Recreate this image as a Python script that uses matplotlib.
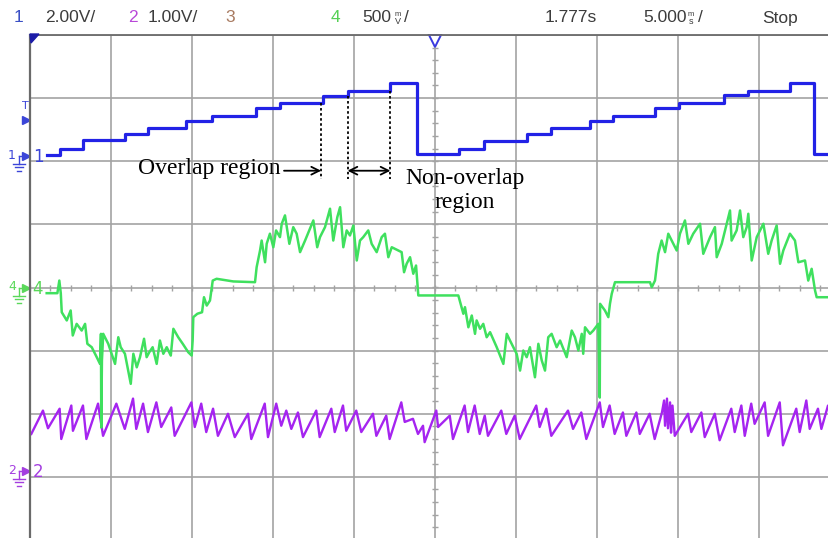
import numpy as np
import matplotlib.pyplot as plt
from matplotlib.transforms import blended_transform_factory

W, H = 829, 538

# time axis in ms (5 ms/div), 10 divisions
# channel 1: staircase reference, volts (2.00 V/div)
ch1_t = [1.03, 1.85, 3.25, 5.85, 7.28, 9.63, 11.23, 13.95, 15.43, 18.09, 19.63, 22.22,
         23.89, 26.48, 28.02, 30.68, 32.16, 34.57, 35.99, 38.58, 40.06, 42.84, 44.32, 46.91,
         48.40, 50.0]
ch1_v = [0.03, 0.21, 0.48, 0.69, 0.86, 1.10, 1.26, 1.51, 1.66, 1.90, 2.06, 2.30,
         0.05, 0.21, 0.45, 0.69, 0.86, 1.09, 1.25, 1.50, 1.66, 1.91, 2.06, 2.30,
         0.05, 0.05]

# channel 4: output current (500 m/div)
ch4_t = [1.03, 1.69, 1.81, 1.90, 1.96, 2.27, 2.51, 2.64, 2.88, 3.19,
         3.40, 3.54, 3.81, 4.12, 4.32, 4.38, 4.40, 4.44, 4.52, 4.83,
         5.25, 5.45, 5.60, 5.86, 6.22, 6.38, 6.59, 6.79, 7.04, 7.20,
         7.36, 7.57, 7.82, 8.02, 8.23, 8.44, 8.69, 8.85, 9.15, 9.43,
         9.77, 9.98, 10.04, 10.08, 10.33, 10.62, 10.74, 10.91, 11.11, 11.28,
         11.52, 12.55, 13.89, 13.99, 14.20, 14.30, 14.51, 14.61, 14.81, 15.02,
         15.19, 15.43, 15.54, 15.74, 15.85, 16.01, 16.25, 16.46, 16.67, 16.98,
         17.49, 17.73, 17.90, 18.21, 18.52, 18.72, 18.97, 19.14, 19.34, 19.55,
         19.75, 19.96, 20.17, 20.37, 20.57, 20.88, 21.09, 21.40, 21.71, 21.91,
         22.12, 22.33, 22.73, 22.94, 23.09, 23.25, 23.46, 23.66, 23.83, 23.97,
         26.44, 26.75, 26.85, 27.06, 27.27, 27.47, 27.57, 27.78, 27.98, 28.19,
         28.40, 28.81, 29.22, 29.43, 29.63, 30.04, 30.25, 30.45, 30.66, 30.86,
         31.17, 31.38, 31.59, 31.79, 31.99, 32.20, 32.51, 32.72, 33.13, 33.44,
         33.64, 33.85, 34.06, 34.15, 34.26, 34.57, 34.77, 35.08, 35.17, 35.19,
         35.49, 35.70, 35.80, 35.91, 36.11, 38.27, 38.38, 38.58, 38.78, 38.99,
         39.20, 39.40, 39.71, 39.92, 40.12, 40.43, 40.64, 40.94, 41.36, 41.56,
         41.98, 42.28, 42.39, 42.70, 43.01, 43.21, 43.31, 43.62, 43.83, 44.03,
         44.24, 44.34, 44.55, 44.86, 45.27, 45.57, 45.78, 46.09, 46.30, 46.50,
         46.91, 47.22, 47.43, 47.84, 48.04, 48.25, 48.46, 48.56, 49.32, 50.0]
ch4_v = [-0.045, -0.045, 0.055, -0.045, -0.196, -0.261, -0.182, -0.380, -0.288, -0.341,
         -0.288, -0.446, -0.473, -0.552, -0.605, -0.367, -1.109, -0.578, -0.367, -0.446,
         -0.605, -0.394, -0.473, -0.525, -0.763, -0.525, -0.632, -0.552, -0.406, -0.552,
         -0.513, -0.473, -0.605, -0.420, -0.525, -0.473, -0.539, -0.327, -0.394, -0.446,
         -0.513, -0.539, -0.420, -0.235, -0.208, -0.196, -0.077, -0.143, -0.103, 0.055,
         0.069, 0.048, 0.042, 0.161, 0.293, 0.372, 0.200, 0.346, 0.426, 0.319,
         0.452, 0.399, 0.505, 0.571, 0.478, 0.346, 0.478, 0.426, 0.280, 0.372,
         0.531, 0.319, 0.399, 0.478, 0.624, 0.372, 0.557, 0.636, 0.319, 0.452,
         0.412, 0.491, 0.214, 0.372, 0.399, 0.452, 0.346, 0.280, 0.399, 0.426,
         0.240, 0.319, 0.293, 0.280, 0.121, 0.188, 0.240, 0.109, 0.174, -0.063,
         -0.063, -0.208, -0.156, -0.315, -0.222, -0.367, -0.261, -0.327, -0.288, -0.394,
         -0.354, -0.473, -0.605, -0.367, -0.420, -0.525, -0.658, -0.499, -0.552, -0.473,
         -0.711, -0.446, -0.578, -0.658, -0.394, -0.367, -0.473, -0.420, -0.552, -0.341,
         -0.394, -0.499, -0.367, -0.525, -0.315, -0.367, -0.341, -0.288, -0.872, -0.129,
         -0.182, -0.235, -0.129, -0.050, 0.042, 0.042, 0.002, 0.055, 0.267, 0.372,
         0.280, 0.426, 0.346, 0.293, 0.426, 0.531, 0.346, 0.426, 0.505, 0.267,
         0.399, 0.478, 0.240, 0.346, 0.505, 0.610, 0.372, 0.452, 0.610, 0.399,
         0.478, 0.584, 0.214, 0.399, 0.505, 0.267, 0.372, 0.491, 0.188, 0.293,
         0.426, 0.372, 0.200, 0.214, 0.055, 0.148, -0.024, -0.077, -0.077, -0.077]

# channel 2: switching ripple, volts (1.00 V/div)
ch2_t = [0.08, 0.80, 1.11, 1.83, 1.93, 2.55, 2.65, 3.27, 3.48, 4.20,
         4.51, 5.33, 5.85, 6.36, 6.56, 6.98, 7.28, 7.80, 8.10, 8.72,
         8.93, 9.96, 10.17, 10.57, 10.88, 11.30, 11.60, 12.22, 12.64, 13.46,
         13.66, 14.49, 14.69, 15.20, 15.51, 15.82, 16.13, 16.54, 16.85, 17.67,
         17.88, 18.60, 18.81, 19.32, 19.52, 20.14, 20.45, 21.17, 21.38, 21.99,
         22.20, 22.92, 23.13, 23.64, 23.95, 24.26, 24.36, 25.08, 25.19, 25.91,
         26.11, 26.83, 27.04, 27.45, 27.76, 28.07, 28.27, 29.09, 29.40, 29.92,
         30.23, 31.25, 31.46, 31.87, 32.18, 33.21, 33.52, 34.03, 34.34, 35.17,
         35.37, 35.78, 36.09, 36.60, 36.81, 37.43, 37.64, 38.25, 38.56,
         39.01, 39.14, 39.20, 39.32, 39.38, 39.51, 39.57, 39.66,
         39.80, 40.62, 40.82, 41.44, 41.65, 42.27, 42.57, 43.29, 43.50, 43.91,
         44.12, 44.52, 44.73, 45.35, 45.56, 46.28, 46.48, 47.30, 47.51, 47.92,
         48.13, 48.64, 48.85, 49.26, 49.69]
ch2_v = [0.58, 0.95, 0.67, 0.98, 0.50, 1.03, 0.63, 1.03, 0.50, 1.06,
         0.55, 1.06, 0.66, 1.14, 0.66, 1.06, 0.61, 1.08, 0.69, 1.00,
         0.55, 1.08, 0.69, 1.06, 0.61, 0.98, 0.55, 0.90, 0.53, 0.90,
         0.50, 1.06, 0.53, 1.06, 0.71, 0.95, 0.66, 0.92, 0.53, 0.95,
         0.53, 0.98, 0.61, 1.03, 0.63, 0.95, 0.61, 0.90, 0.55, 0.87,
         0.50, 1.08, 0.77, 0.82, 0.58, 0.71, 0.45, 0.95, 0.69, 0.87,
         0.50, 1.03, 0.61, 1.03, 0.58, 0.87, 0.55, 0.95, 0.58, 0.87,
         0.50, 1.03, 0.69, 0.98, 0.55, 0.95, 0.66, 0.92, 0.50, 1.08,
         0.69, 1.03, 0.58, 0.92, 0.55, 0.92, 0.58, 0.90, 0.50,
         0.92, 1.11, 0.71, 1.14, 0.67, 1.08, 0.60, 1.03,
         0.55, 0.90, 0.61, 0.92, 0.53, 0.90, 0.48, 0.98, 0.61, 1.03,
         0.55, 1.06, 0.74, 1.08, 0.55, 1.08, 0.40, 0.98, 0.61, 1.11,
         0.66, 0.98, 0.66, 1.03, 0.63]

# channel settings: (volts per div, ground offset in div from screen centre)
CH1 = (2.0, 2.09)
CH2 = (1.0, -2.90)
CH4 = (0.5, 0.0)

BLUE = '#2222e6'
GREEN = '#3fe05e'
PURPLE = '#a524f0'
GRID = '#a3a3a3'
TXT = '#3c3c3c'


def to_div(v, ch):
    scale, off = ch
    return off + np.asarray(v, dtype=float) / scale


fig = plt.figure(figsize=(W / 100, H / 100), dpi=100)
fig.patch.set_facecolor('white')
# screen spans 10 x 8 divisions; right and bottom edges run off the capture
ax = fig.add_axes([30 / W, -2 / H, 810 / W, 505 / H])
ax.set_xlim(0, 50)
ax.set_ylim(-4, 4)
ax.set_xticks(np.arange(0, 51, 5))
ax.set_yticks(np.arange(-4, 5, 1))
ax.tick_params(length=0, labelbottom=False, labelleft=False)
ax.grid(True, color=GRID, lw=1.2)
for side in ('right', 'bottom'):
    ax.spines[side].set_visible(False)
ax.spines['left'].set_color('#6a6a6a')
ax.spines['left'].set_linewidth(1.6)
ax.spines['top'].set_color('#6a6a6a')
ax.spines['top'].set_linewidth(1.3)

# minor ticks on the centre cross
ax.plot(np.arange(0, 50.01, 1.25), np.zeros(41), ls='none', marker='|',
        ms=5, mew=1.0, color=GRID)
ax.plot(np.full(41, 25.0), np.arange(-4, 4.01, 0.2), ls='none', marker='_',
        ms=5, mew=1.0, color=GRID)

ax.plot(ch2_t, to_div(ch2_v, CH2), color=PURPLE, lw=1.7)
ax.plot(ch4_t, to_div(ch4_v, CH4), color=GREEN, lw=1.8)
ax.plot(ch1_t, to_div(ch1_v, CH1), color=BLUE, lw=2.3, drawstyle='steps-post')

# overlap / non-overlap markers
serif = 'Liberation Serif'
edge_a, edge_b, edge_c = ch1_t[9], ch1_t[10], ch1_t[11]
bottom_v = -0.73
arrow_v = -0.48
for t, top in ((edge_a - 0.12, ch1_v[8]), (edge_b - 0.03, ch1_v[9]), (edge_c + 0.03, ch1_v[10])):
    ax.plot([t, t], to_div([top, bottom_v], CH1), color='black', lw=1.3,
            ls=(0, (1.4, 1.4)))
ax.annotate('', xy=(edge_a - 0.12, to_div(arrow_v, CH1)),
            xytext=(15.68, to_div(arrow_v, CH1)),
            arrowprops=dict(arrowstyle='->', color='black', lw=1.3,
                            shrinkA=0, shrinkB=0, mutation_scale=14))
ax.annotate('', xy=(edge_c + 0.03, to_div(arrow_v, CH1)),
            xytext=(edge_b - 0.03, to_div(arrow_v, CH1)),
            arrowprops=dict(arrowstyle='<->', color='black', lw=1.3,
                            shrinkA=0, shrinkB=0, mutation_scale=14))
ax.text(15.49, to_div(-0.41, CH1), 'Overlap region', family=serif, fontsize=17,
        ha='right', va='center')
ax.text(26.85, to_div(-1.11, CH1), 'Non-overlap\nregion', family=serif, fontsize=17,
        ha='center', va='center', linespacing=1.15)

# trigger position marker at top centre
ax.plot([25], [3.9], marker='v', ms=9, mfc='white', mec='#3a3ae0', mew=1.4,
        clip_on=False)

# channel ground markers on the left edge
tr = blended_transform_factory(fig.transFigure, ax.transData)
px = 1 / 63.1


def ground_marker(label, ch, color):
    y = ch[1]
    ax.text(12 / W, y + 0.5 * px, label, transform=tr, color=color, fontsize=9,
            ha='center', va='center', clip_on=False)
    ax.plot([19 / W, 19 / W], [y, y - 8 * px], transform=tr, color=color,
            lw=1.0, clip_on=False)
    ax.plot([19 / W, 24 / W], [y, y], transform=tr, color=color, lw=1.0, clip_on=False)
    for k, half in enumerate((6, 4, 2)):
        yy = y - (8 + 3.5 * k) * px
        ax.plot([(19 - half) / W, (19 + half) / W], [yy, yy], transform=tr,
                color=color, lw=1.0, clip_on=False)
    ax.plot([26 / W], [y], marker='>', ms=6, color=color, transform=tr, clip_on=False)
    ax.text(38 / W, y - 1 * px, label, transform=tr, color=color, fontsize=12,
            ha='center', va='center', clip_on=False)


ground_marker('1', CH1, '#3b45d8')
ground_marker('4', CH4, '#5ad85a')
ground_marker('2', CH2, '#a43ee0')

# trigger level
ax.text(25 / W, 2.87, 'T', transform=tr, color='#3b45d8', fontsize=8,
        ha='center', va='center', clip_on=False)
ax.plot([26 / W], [2.65], marker='>', ms=6, color='#3b45d8', transform=tr,
        clip_on=False)
fig.patches.append(plt.Polygon([[30 / W, 1 - 34 / H], [39 / W, 1 - 34 / H],
                                [31 / W, 1 - 43 / H]], closed=True,
                               color='#1c1ca8', transform=fig.transFigure))

# status bar
hy = 1 - 18 / H
hdr = dict(family='Liberation Sans', fontsize=12.5, va='center', ha='left')
small = dict(family='Liberation Sans', color=TXT, ha='center', va='center')
fig.text(14 / W, hy, '1', color='#3a4fc4', **hdr)
fig.text(45 / W, hy, '2.00V/', color=TXT, **hdr)
fig.text(128 / W, hy, '2', color='#b848d8', **hdr)
fig.text(148 / W, hy, '1.00V/', color=TXT, **hdr)
fig.text(225 / W, hy, '3', color='#a87a60', **hdr)
fig.text(331 / W, hy, '4', color='#55d055', **hdr)
fig.text(362 / W, hy, '500', color=TXT, **hdr)
fig.text(398 / W, hy + 4 / H, 'm', fontsize=5.5, **small)
fig.text(398 / W, hy - 3 / H, 'V', fontsize=6.5, **small)
fig.text(404 / W, hy, '/', color=TXT, **hdr)
fig.text(545 / W, hy, '1.777s', color=TXT, **hdr)
fig.text(643 / W, hy, '5.000', color=TXT, **hdr)
fig.text(691 / W, hy + 4 / H, 'm', fontsize=5.5, **small)
fig.text(691 / W, hy - 3 / H, 's', fontsize=6.5, **small)
fig.text(698 / W, hy, '/', color=TXT, **hdr)
fig.text(762 / W, hy, 'Stop', color=TXT, **hdr)

fig.savefig('out.png', dpi=100)
